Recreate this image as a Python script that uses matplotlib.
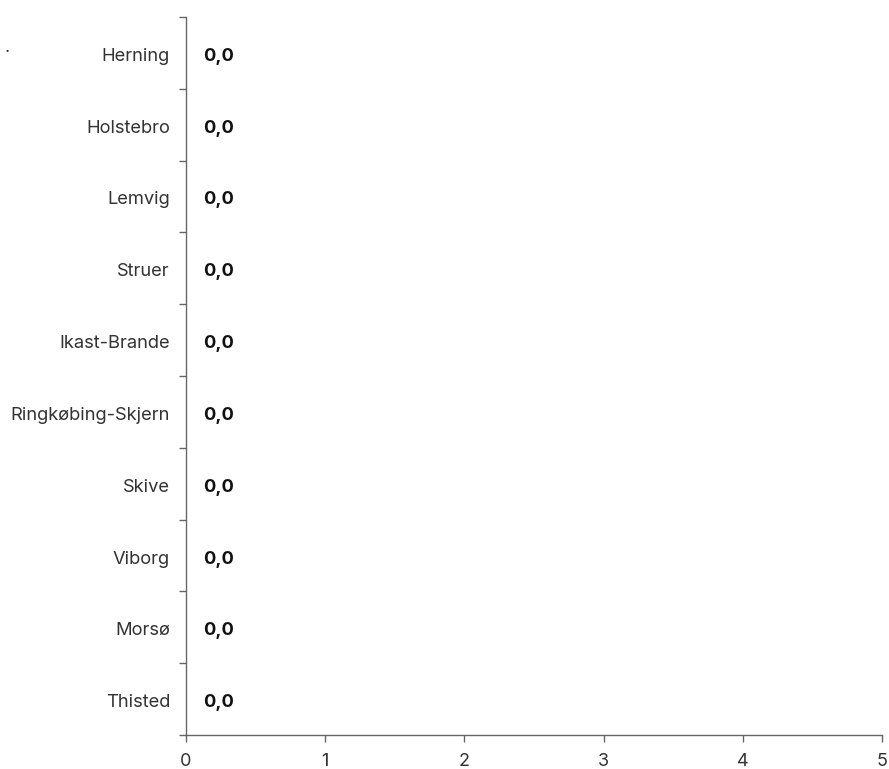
import matplotlib
matplotlib.use("Agg")
import matplotlib.pyplot as plt
import matplotlib.transforms as mtransforms
import numpy as np

categories = ["Herning", "Holstebro", "Lemvig", "Struer", "Ikast-Brande",
              "Ringkøbing-Skjern", "Skive", "Viborg", "Morsø", "Thisted"]
values = [0.0, 0.0, 0.0, 0.0, 0.0, 0.0, 0.0, 0.0, 0.0, 0.0]
xticks = [0, 1, 2, 3, 4, 5]

plt.rcParams['font.family'] = ['Inter', 'DejaVu Sans']

W, H = 889, 769
fig = plt.figure(figsize=(W / 100, H / 100), dpi=100)
left, right, top, bottom = 186, 882, 17, 735
ax = fig.add_axes([left / W, 1 - bottom / H, (right - left) / W, (bottom - top) / H])

n = len(categories)
y = np.arange(n)
ax.barh(y, values, height=0.6, color="#4a7ab5")
ax.set_ylim(n - 0.5, -0.5)
ax.set_xlim(0, 5)
ax.set_xticks(xticks)
ax.set_xticklabels([str(t) for t in xticks], fontsize=13, color="#333333")
ax.set_yticks(y)
ax.set_yticklabels(categories, fontsize=13.2, color="#333333")
ax.tick_params(axis='y', length=0, pad=11.5)
ax.set_yticks(np.arange(-0.5, n, 1), minor=True)
ax.tick_params(axis='y', which='minor', length=5, color="#666666", width=1)
ax.tick_params(axis='x', length=5, color="#666666", width=1, pad=8)

shift = mtransforms.ScaledTranslation(0, -1.5 / 100, fig.dpi_scale_trans)
for lab in ax.get_yticklabels():
    lab.set_transform(lab.get_transform() + shift)

for s in ["top", "right"]:
    ax.spines[s].set_visible(False)
for s in ["left", "bottom"]:
    ax.spines[s].set_color("#666666")
    ax.spines[s].set_linewidth(1)

for yi, v in zip(y, values):
    ax.annotate(f"{v:.1f}".replace(".", ","), xy=(v, yi), xytext=(17, -1.5),
                textcoords="offset pixels", va="center_baseline", ha="left",
                fontsize=13.2, fontweight="bold", color="#111111")

fig.text(5 / W, 1 - 48 / H, ".", fontsize=13, color="#333333", va="center", ha="left")

fig.savefig("out.png", dpi=100)
